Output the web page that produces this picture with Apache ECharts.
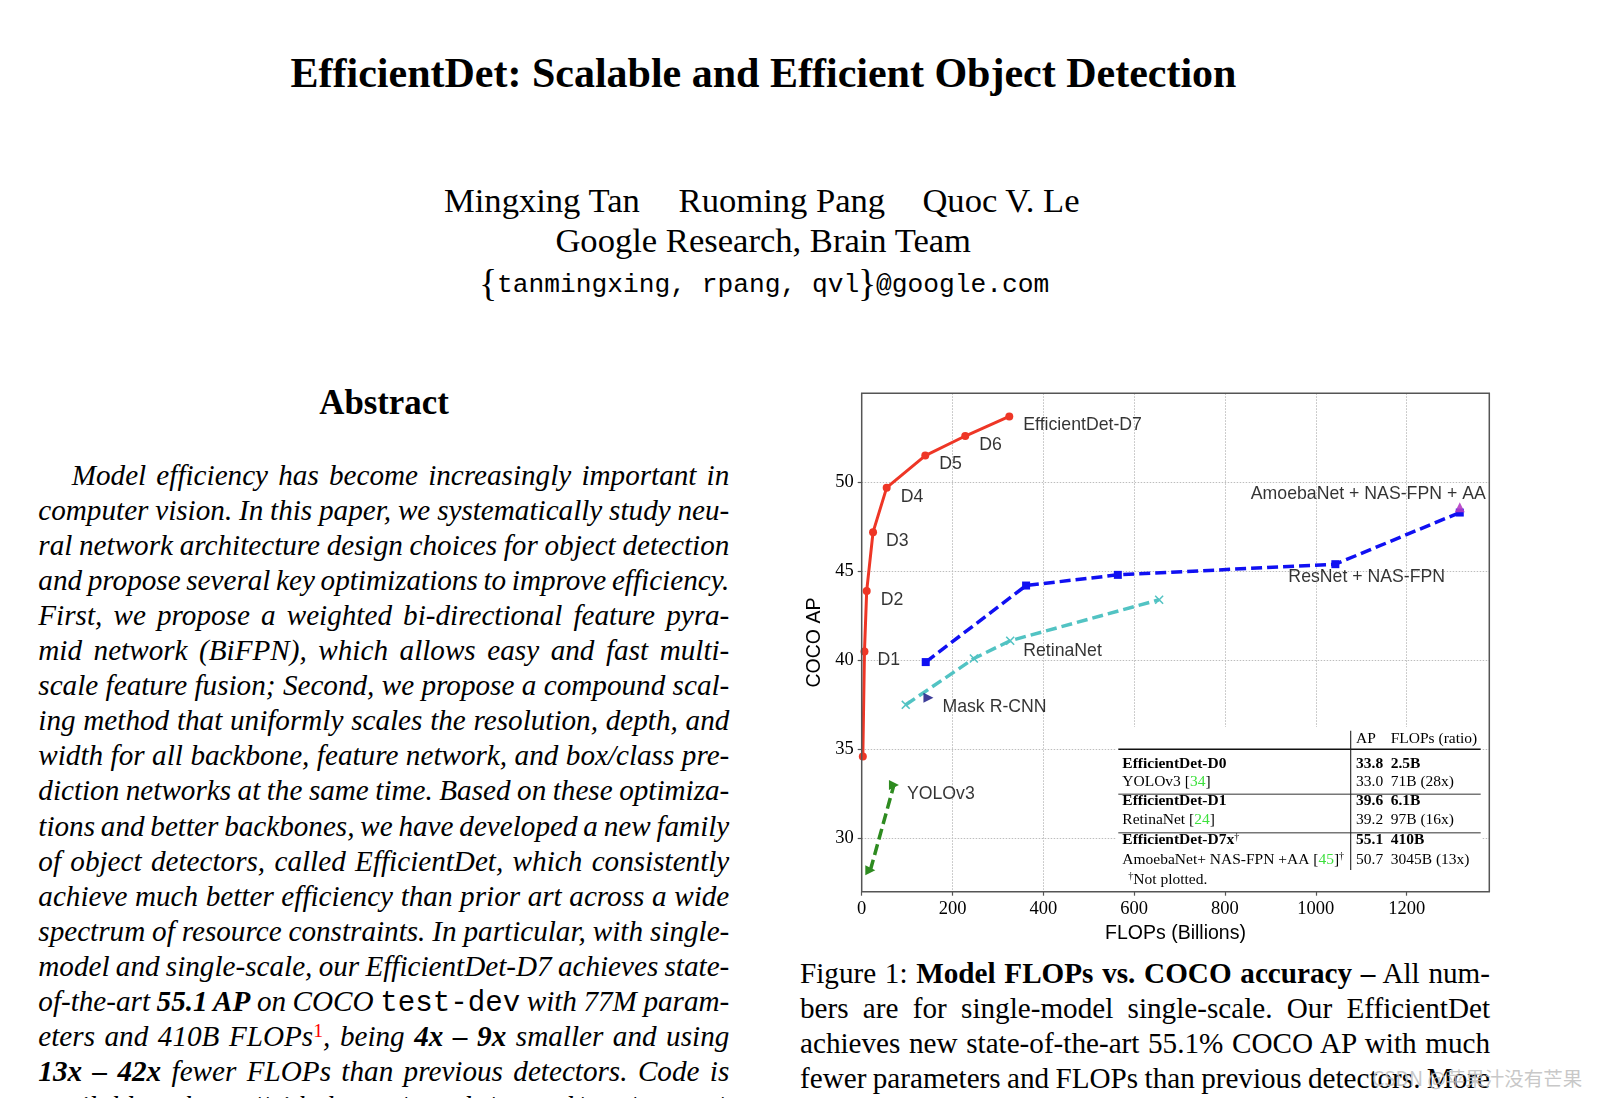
<!DOCTYPE html>
<html><head><meta charset="utf-8">
<script src="https://cdn.jsdelivr.net/npm/echarts@6/dist/echarts.min.js"></script>
<style>
html,body{margin:0;padding:0;background:#fff;}
body{width:1600px;height:1098px;overflow:hidden;position:relative;font-family:'Liberation Serif','Times New Roman',serif;color:#000;}
.t{position:absolute;white-space:nowrap;line-height:1;}
.c{transform:translateX(-50%);}
.it{font-style:italic;}
.tt{font-family:'Liberation Mono','Courier New',monospace;font-style:normal;}
.sup{position:relative;top:-0.45em;font-size:0.68em;color:#f00;font-style:normal;}
.clip{overflow:hidden;}
#chart{position:absolute;left:780px;top:370px;width:820px;height:580px;}
#wm{position:absolute;left:1372px;top:1068px;font-family:'Noto Sans CJK SC','Noto Sans',sans-serif;font-size:19.5px;line-height:1;color:rgba(190,190,190,0.85);white-space:nowrap;}
</style></head><body>
<div class="t c" data-b="87.4" style="left:763.5px;font-size:42px;font-weight:bold;">EfficientDet: Scalable and Efficient Object Detection</div>
<div class="t" data-b="212" style="left:444px;font-size:34.6px;">Mingxing Tan</div>
<div class="t" data-b="212" style="left:678.6px;font-size:34.6px;">Ruoming Pang</div>
<div class="t" data-b="212" style="left:922.4px;font-size:34.6px;">Quoc V. Le</div>
<div class="t c" data-b="252" style="left:763.2px;font-size:34.6px;">Google Research, Brain Team</div>
<div class="t" data-b="296" style="left:479px;font-size:38px;">{</div>
<div class="t tt" data-b="292.5" data-mono="1" style="left:497px;font-size:26.25px;">tanmingxing, rpang, qvl</div>
<div class="t" data-b="296" style="left:858px;font-size:38px;">}</div>
<div class="t tt" data-b="292.5" data-mono="1" style="left:876px;font-size:26.25px;">@google.com</div>
<div class="t c" data-b="415" style="left:384px;font-size:34.8px;font-weight:bold;">Abstract</div>

<div id="abs"></div>
<div id="cap"></div>
<div id="chart"></div>
<div id="wm">CSDN @苹果汁没有芒果</div>

<script>
// ---------------- page text ----------------
const abstractLines = [
  'Model efficiency has become increasingly important in',
  'computer vision. In this paper, we systematically study neu-',
  'ral network architecture design choices for object detection',
  'and propose several key optimizations to improve efficiency.',
  'First, we propose a weighted bi-directional feature pyra-',
  'mid network (BiFPN), which allows easy and fast multi-',
  'scale feature fusion; Second, we propose a compound scal-',
  'ing method that uniformly scales the resolution, depth, and',
  'width for all backbone, feature network, and box/class pre-',
  'diction networks at the same time. Based on these optimiza-',
  'tions and better backbones, we have developed a new family',
  'of object detectors, called EfficientDet, which consistently',
  'achieve much better efficiency than prior art across a wide',
  'spectrum of resource constraints. In particular, with single-',
  'model and single-scale, our EfficientDet-D7 achieves state-',
  'of-the-art <b>55.1 AP</b> on COCO <span class="tt">test-dev</span> with 77M param-',
  'eters and 410B FLOPs<span class="sup">1</span>, being <b>4x – 9x</b> smaller and using',
  '<b>13x – 42x</b> fewer FLOPs than previous detectors. Code is',
  'available at https://github.com/google/automl/tree/master/efficientdet.'
];
const captionLines = [
  'Figure 1: <b>Model FLOPs vs. COCO accuracy –</b> All num-',
  'bers are for single-model single-scale. Our EfficientDet',
  'achieves new state-of-the-art 55.1% COCO AP with much',
  'fewer parameters and FLOPs than previous detectors. More'
];

function buildBlock(host, lines, cls, left, right, firstIndent, base0, step, fs, lastJustify) {
  lines.forEach((html, i) => {
    const d = document.createElement('div');
    d.className = 't ' + cls;
    d.innerHTML = html;
    const l = left + (i === 0 ? firstIndent : 0);
    d.style.left = l + 'px';
    d.style.fontSize = fs + 'px';
    d.dataset.b = base0 + step * i;
    if (lastJustify || i < lines.length - 1) d.dataset.w = right - l;
    else { d.classList.add('clip'); d.style.width = (right - l) + 'px'; }
    host.appendChild(d);
  });
}
buildBlock(document.getElementById('abs'), abstractLines, 'it', 38.3, 729.3, 33.4, 485, 35.1, 29.17, false);
buildBlock(document.getElementById('cap'), captionLines, '', 800, 1490, 0, 983, 35.1, 29.17, true);

function layoutText() {
  document.querySelectorAll('.t').forEach(el => {
    const fs = parseFloat(getComputedStyle(el).fontSize);
    const b = parseFloat(el.dataset.b);
    if (!isNaN(b)) {
      const asc = el.dataset.mono ? 0.7665 : 0.8375;
      el.style.top = (b - asc * fs) + 'px';
    }
    if (el.dataset.w) {
      el.style.wordSpacing = '0px';
      const nat = el.getBoundingClientRect().width;
      const n = (el.textContent.match(/ /g) || []).length;
      if (n > 0) el.style.wordSpacing = ((parseFloat(el.dataset.w) - nat) / n) + 'px';
    }
  });
}
layoutText();
if (document.fonts && document.fonts.ready) document.fonts.ready.then(layoutText);

// ---------------- chart data ----------------
const effFlops = [2.5, 6.1, 11, 25, 55, 140, 228, 325];
const effAP    = [34.6, 40.5, 43.9, 47.2, 49.7, 51.5, 52.6, 53.7];
const nasFlops = [141, 362, 564, 1043, 1317];
const nasAP    = [39.9, 44.2, 44.8, 45.4, 48.3];
const retinaFlops = [97, 247, 327, 655];
const retinaAP    = [37.5, 40.1, 41.1, 43.4];
const maskFlops = [147];
const maskAP    = [37.9];
const yoloFlops = [19, 71];
const yoloAP    = [28.2, 33.0];
const amoebaFlops = [1317];
const amoebaAP    = [48.6];

// annotation texts, attached to points of the series above
const annotations = [
  ['D1', 'eff', 1], ['D2', 'eff', 2], ['D3', 'eff', 3], ['D4', 'eff', 4],
  ['D5', 'eff', 5], ['D6', 'eff', 6], ['EfficientDet-D7', 'eff', 7],
  ['RetinaNet', 'retina', 2], ['Mask R-CNN', 'mask', 0], ['YOLOv3', 'yolo', 1],
  ['ResNet + NAS-FPN', 'nas', 3], ['AmoebaNet + NAS-FPN + AA', 'amoeba', 0]
];
// inset table content
const tableHeader = ['AP', 'FLOPs (ratio)'];
const tableRows = [
  ['{b|EfficientDet-D0}', '{b|33.8}', '{b|2.5B}'],
  ['YOLOv3 [{g|34}]', '33.0', '71B (28x)'],
  ['{b|EfficientDet-D1}', '{b|39.6}', '{b|6.1B}'],
  ['RetinaNet [{g|24}]', '39.2', '97B (16x)'],
  ['{b|EfficientDet-D7x}{s|†}', '{b|55.1}', '{b|410B}'],
  ['AmoebaNet+ NAS-FPN +AA [{g|45}]{s|†}', '50.7', '3045B (13x)']
];
const tableNote = '{s|†}Not plotted.';

// ---------------- chart layout / style ----------------
const OX = 780, OY = 370;
const GL = 81.7, GT = 23.3, GW = 627.6, GH = 498.4;
const series = {
  eff: [effFlops, effAP], nas: [nasFlops, nasAP], retina: [retinaFlops, retinaAP],
  mask: [maskFlops, maskAP], yolo: [yoloFlops, yoloAP], amoeba: [amoebaFlops, amoebaAP]
};
const labelOffset = {
  'D1': [13, 9], 'D2': [14, 9], 'D3': [13, 9], 'D4': [14, 9], 'D5': [14, 9], 'D6': [14, 9],
  'EfficientDet-D7': [14, 9], 'RetinaNet': [13, 10], 'Mask R-CNN': [14, 9], 'YOLOv3': [13, 9],
  'ResNet + NAS-FPN': [-47, 13], 'AmoebaNet + NAS-FPN + AA': [-209, -13]
};
const zip = (xs, ys) => xs.map((x, i) => [x, ys[i]]);
const xMark = 'path://M0,1.2L1.2,0L5,3.8L8.8,0L10,1.2L6.2,5L10,8.8L8.8,10L5,6.2L1.2,10L0,8.8L3.8,5Z';
const SANS = "'Liberation Sans', Arial, Helvetica, sans-serif";
const SERIF = "'Liberation Serif', 'Times New Roman', serif";

const chart = echarts.init(document.getElementById('chart'), null, {renderer: 'canvas'});

// table graphic (page coords -> chart coords)
const TF = 15.5;
const tY = b => b - OY - 0.3375 * TF;
const rich = {
  b: {fontFamily: SERIF, fontSize: TF, fontWeight: 'bold', fill: '#000', color: '#000'},
  g: {fontFamily: SERIF, fontSize: TF, fill: '#3de03d', color: '#3de03d'},
  s: {fontFamily: SERIF, fontSize: 10, verticalAlign: 'top', fill: '#000', color: '#000'}
};
function tText(str, xPage, bPage) {
  return {type: 'text', z: 3, x: xPage - OX, y: tY(bPage), silent: true,
    style: {text: str, font: TF + 'px ' + SERIF, fill: '#000', align: 'left', verticalAlign: 'middle',
      textAlign: 'left', textVerticalAlign: 'middle', rich: rich}};
}
function hLine(y, color, w) {
  return {type: 'line', z: 2, silent: true, shape: {x1: 1118.3 - OX, y1: y - OY, x2: 1480.7 - OX, y2: y - OY},
    style: {stroke: color, lineWidth: w}};
}
const rowBase = [769, 787.3, 806.5, 825.5, 845.5, 865];
const colX = [1122.3, 1356, 1390.7];
const graphics = [
  {type: 'rect', z: 1, silent: true, shape: {x: 1116 - OX, y: 727 - OY, width: 366, height: GT + GH - (727 - OY) - 0.8},
    style: {fill: '#fff'}},
  hLine(749.3, '#111', 1.6), hLine(794.3, '#777', 1.4), hLine(832.7, '#777', 1.4),
  {type: 'line', z: 2, silent: true, shape: {x1: 1350.7 - OX, y1: 730.7 - OY, x2: 1350.7 - OX, y2: 870 - OY},
    style: {stroke: '#222', lineWidth: 1.1}},
  tText(tableHeader[0], colX[1], 744.3), tText(tableHeader[1], colX[2], 744.3),
  tText(tableNote, 1128.3, 885),
  {type: 'rect', z: 10, silent: true, shape: {x: GL, y: GT, width: GW, height: GH},
    style: {fill: 'none', stroke: '#555', lineWidth: 1.5}}
];
tableRows.forEach((r, i) => r.forEach((c, j) => graphics.push(tText(c, colX[j], rowBase[i]))));

const dashed = [11, 5];
const plainNum = v => String(v);
chart.setOption({
  animation: false,
  backgroundColor: 'transparent',
  grid: {left: GL, top: GT, width: GW, height: GH, containLabel: false, show: false},
  xAxis: {
    type: 'value', min: 0, max: 1382, splitNumber: 7,
    name: 'FLOPs (Billions)', nameLocation: 'middle', nameGap: 30,
    nameTextStyle: {fontFamily: SANS, fontSize: 19.5, color: '#000'},
    axisLine: {show: false},
    axisTick: {show: true, inside: false, length: 4, lineStyle: {color: '#555', width: 1.2}},
    axisLabel: {margin: 8, showMaxLabel: false, color: '#000', fontFamily: SERIF, fontSize: 18.5, formatter: plainNum},
    splitLine: {show: true, lineStyle: {color: '#bdbdbd', width: 1, type: [1.5, 1.5]}}
  },
  yAxis: {
    type: 'value', min: 27, max: 55, splitNumber: 6,
    name: 'COCO AP', nameLocation: 'middle', nameGap: 27, nameRotate: 90,
    nameTextStyle: {fontFamily: SANS, fontSize: 19.5, color: '#000'},
    axisLine: {show: false},
    axisTick: {show: true, inside: false, length: 4, lineStyle: {color: '#555', width: 1.2}},
    axisLabel: {margin: 8, showMinLabel: false, showMaxLabel: false, color: '#000', fontFamily: SERIF, fontSize: 18.5, formatter: plainNum},
    splitLine: {show: true, lineStyle: {color: '#bdbdbd', width: 1, type: [1.5, 1.5]}}
  },
  graphic: {elements: graphics},
  series: [
    {name: 'RetinaNet', type: 'line', z: 3, silent: true, data: zip(retinaFlops, retinaAP),
      symbol: xMark, symbolSize: 9, itemStyle: {color: '#52c3c3'},
      lineStyle: {color: '#52c3c3', width: 3.5, type: dashed}},
    {name: 'YOLOv3', type: 'line', z: 3, silent: true, data: zip(yoloFlops, yoloAP),
      symbol: 'triangle', symbolRotate: -90, symbolSize: 10, itemStyle: {color: '#2e8b20'},
      lineStyle: {color: '#2e8b20', width: 3.5, type: dashed}},
    {name: 'ResNet + NAS-FPN', type: 'line', z: 4, silent: true, data: zip(nasFlops, nasAP),
      symbol: 'rect', symbolSize: 8, itemStyle: {color: '#1010f2'},
      lineStyle: {color: '#1010f2', width: 3.5, type: dashed}},
    {name: 'Mask R-CNN', type: 'scatter', z: 4, silent: true, data: zip(maskFlops, maskAP),
      symbol: 'triangle', symbolRotate: -90, symbolSize: 10, itemStyle: {color: '#0c0c80'}},
    {name: 'AmoebaNet + NAS-FPN + AA', type: 'scatter', z: 5, silent: true, data: zip(amoebaFlops, amoebaAP),
      symbol: 'triangle', symbolSize: 10, itemStyle: {color: '#b23cc4', opacity: 0.9}},
    {name: 'EfficientDet', type: 'line', z: 6, silent: true, data: zip(effFlops, effAP),
      symbol: 'circle', symbolSize: 8, itemStyle: {color: '#ee3626'},
      lineStyle: {color: '#ee3626', width: 3}},
    {name: 'labels', type: 'scatter', z: 7, silent: true, symbolSize: 2,
      itemStyle: {color: 'rgba(0,0,0,0)'},
      label: {show: true, position: 'inside', align: 'left', verticalAlign: 'middle',
        fontFamily: SANS, fontSize: 17.7, color: '#000'},
      data: annotations.map(([txt, s, i]) => ({
        value: [series[s][0][i], series[s][1][i]],
        label: {formatter: txt, offset: labelOffset[txt]}
      }))}
  ]
});
</script>
</body></html>
